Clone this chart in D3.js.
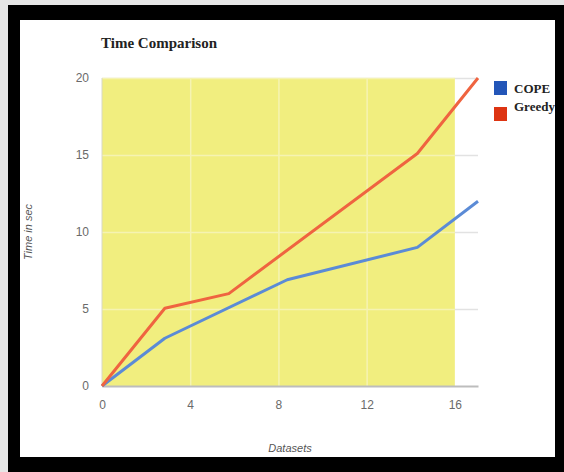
<!DOCTYPE html>
<html>
<head>
<meta charset="utf-8">
<script src="https://cdn.jsdelivr.net/npm/d3@7"></script>
<style>
  body { margin: 0; background: #fff; }
  svg { display: block; }
</style>
</head>
<body>
<div id="js-svg-container"></div>
<script>
// values
let copeX = [0, 2.85, 8.4, 14.3, 17.05];
let copeY = [0, 3.1, 6.9, 9.0, 12.0];
let greedyX = [0, 2.85, 5.75, 14.3, 17.05];
let greedyY = [0, 5.05, 6.0, 15.1, 20.0];
let xTicks = [0, 4, 8, 12, 16];
let yTicks = [0, 5, 10, 15, 20];
let seriesNames = ['COPE', 'Greedy'];

let width = 564;
let height = 472;

let svg = d3.select('#js-svg-container')
    .append('svg')
    .attr('width', width)
    .attr('height', height);

// photo frame
svg.append('rect').attr('x', 0).attr('y', 0).attr('width', width).attr('height', height).attr('fill', '#e6e6e6');
svg.append('rect').attr('x', 8).attr('y', 5).attr('width', width - 8).attr('height', height - 5).attr('fill', '#000');
svg.append('rect').attr('x', 20).attr('y', 20).attr('width', 535).attr('height', 437).attr('fill', '#fff');

let x = d3.scaleLinear()
    .domain([0, 17.05])
    .range([102, 478]);

let y = d3.scaleLinear()
    .domain([0, 20])
    .range([386, 78]);

// gray grid over the whole plot
svg.append('g')
    .attr('transform', 'translate(' + x(0) + ',0)')
    .call(d3.axisLeft(y).tickValues(yTicks.slice(1)).tickSize(-(x(17.05) - x(0))).tickFormat(''))
    .call(g => g.select('.domain').remove())
    .call(g => g.selectAll('line').attr('stroke', '#e2e2e2').attr('stroke-width', 1.5));

// yellow band up to 16
svg.append('rect')
    .attr('x', x(0))
    .attr('y', y(20))
    .attr('width', x(16) - x(0))
    .attr('height', y(0) - y(20))
    .attr('fill', '#f1ee7f');

// light grid on the yellow
svg.append('g')
    .attr('transform', 'translate(' + x(0) + ',0)')
    .call(d3.axisLeft(y).tickValues(yTicks.slice(1)).tickSize(-(x(16) - x(0))).tickFormat(''))
    .call(g => g.select('.domain').remove())
    .call(g => g.selectAll('line').attr('stroke', '#f5f3b2').attr('stroke-width', 1.5));

svg.append('g')
    .attr('transform', 'translate(0,' + y(20) + ')')
    .call(d3.axisBottom(x).tickValues(xTicks.slice(1, 4)).tickSize(y(0) - y(20)).tickFormat(''))
    .call(g => g.select('.domain').remove())
    .call(g => g.selectAll('line').attr('stroke', '#f5f3b2').attr('stroke-width', 1.5));

// left edge and baseline
svg.append('line')
    .attr('x1', x(0)).attr('x2', x(0))
    .attr('y1', y(20)).attr('y2', y(0))
    .attr('stroke', '#d8d8c8').attr('stroke-width', 1);

let scaleXAxis = d3.axisBottom(x)
    .tickValues(xTicks)
    .tickSize(0)
    .tickPadding(14);

svg.append('g')
    .attr('transform', 'translate(0,' + y(0) + ')')
    .call(scaleXAxis)
    .call(g => g.select('.domain').attr('stroke', '#bdbdbd').attr('stroke-width', 2))
    .call(g => g.selectAll('text')
        .attr('fill', '#6a6a6a')
        .style('font-family', 'Liberation Sans, Arial, sans-serif')
        .style('font-size', '12px'));

let scaleYAxis = d3.axisLeft(y)
    .tickValues(yTicks)
    .tickSize(0)
    .tickPadding(13);

svg.append('g')
    .attr('transform', 'translate(' + x(0) + ',0)')
    .call(scaleYAxis)
    .call(g => g.select('.domain').remove())
    .call(g => g.selectAll('text')
        .attr('fill', '#6a6a6a')
        .style('font-family', 'Liberation Sans, Arial, sans-serif')
        .style('font-size', '12px'));

// lines
let line = d3.line()
    .x(d => x(d[0]))
    .y(d => y(d[1]));

let copeData = copeX.map((v, i) => [v, copeY[i]]);
let greedyData = greedyX.map((v, i) => [v, greedyY[i]]);

svg.append('path')
    .datum(copeData)
    .attr('d', line)
    .attr('fill', 'none')
    .attr('stroke', '#5b8bd6')
    .attr('stroke-width', 3)
    .attr('stroke-linejoin', 'round');

svg.append('path')
    .datum(greedyData)
    .attr('d', line)
    .attr('fill', 'none')
    .attr('stroke', '#ef6440')
    .attr('stroke-width', 3)
    .attr('stroke-linejoin', 'round');

// titles
svg.append('text')
    .attr('x', 101)
    .attr('y', 48)
    .attr('fill', '#222')
    .style('font-family', 'Liberation Serif, Times New Roman, serif')
    .style('font-weight', 'bold')
    .style('font-size', '15px')
    .text('Time Comparison');

svg.append('text')
    .attr('transform', 'translate(32,232) rotate(-90)')
    .attr('text-anchor', 'middle')
    .attr('fill', '#555')
    .style('font-family', 'Liberation Sans, Arial, sans-serif')
    .style('font-style', 'italic')
    .style('font-size', '11px')
    .text('Time in sec');

svg.append('text')
    .attr('x', 290)
    .attr('y', 452)
    .attr('text-anchor', 'middle')
    .attr('fill', '#555')
    .style('font-family', 'Liberation Sans, Arial, sans-serif')
    .style('font-style', 'italic')
    .style('font-size', '11px')
    .text('Datasets');

// legend, clipped by the frame
let legendColors = ['#2356b8', '#dd3412'];
let legend = svg.append('g');
seriesNames.forEach((name, i) => {
    legend.append('rect')
        .attr('x', 494)
        .attr('y', 81 + i * 26)
        .attr('width', 13)
        .attr('height', 14)
        .attr('fill', legendColors[i]);
    legend.append('text')
        .attr('x', 514)
        .attr('y', 93 + i * 18)
        .attr('fill', '#222')
        .style('font-family', 'Liberation Serif, Times New Roman, serif')
        .style('font-weight', 'bold')
        .style('font-size', '13px')
        .text(name);
});

// right frame edge drawn over the legend text
svg.append('rect').attr('x', 555).attr('y', 5).attr('width', 9).attr('height', height - 5).attr('fill', '#000');
</script>
</body>
</html>
